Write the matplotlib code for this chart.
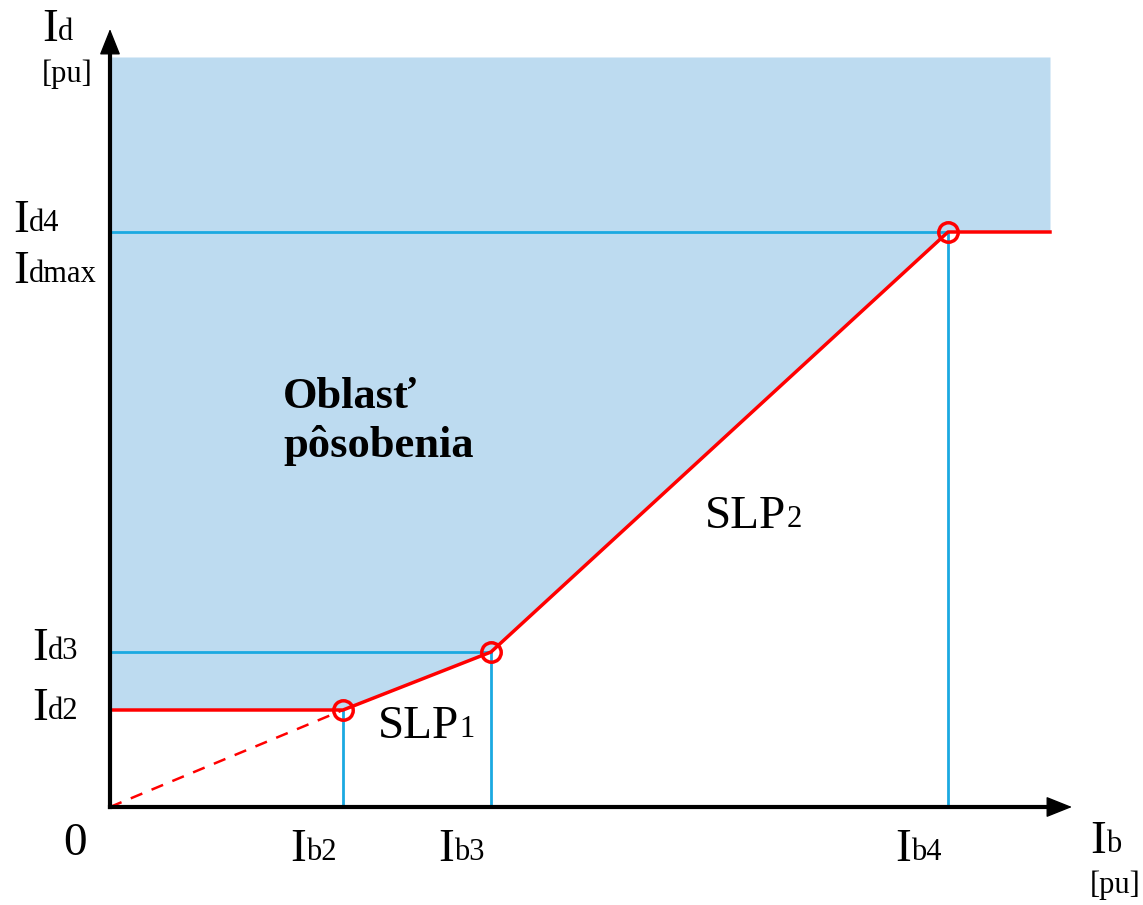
import matplotlib
matplotlib.use("Agg")
import matplotlib.pyplot as plt

# ---- data (per-unit values) ----
Ib_pts = [2.33, 3.81, 8.38]        # Ib2, Ib3, Ib4
Id_pts = [0.97, 1.55, 5.75]        # Id2, Id3, Id4
Ib_end = 9.40                       # end of characteristic
Id_top = 7.50                       # top of operating region
Ib_labels = ["b2", "b3", "b4"]
Id_labels = ["d2", "d3", "d4"]
region_text = "Oblasť\npôsobenia"

RED = "#FF0000"
BLUE = "#1BA9E1"
FILL = "#BDDBF0"
FONT = "Liberation Serif"

fig = plt.figure(figsize=(11.43, 9.05), dpi=100)
ax = fig.add_axes([0, 0, 1, 1])
ax.set_xlim(-1.10, 10.33)
ax.set_ylim(-0.98, 8.07)
ax.axis("off")

# characteristic curve
cx = [0, Ib_pts[0], Ib_pts[1], Ib_pts[2], Ib_end]
cy = [Id_pts[0], Id_pts[0], Id_pts[1], Id_pts[2], Id_pts[2]]
ax.fill_between(cx, cy, Id_top, color=FILL, lw=0, zorder=1)

# blue guide lines
for xi, yi in zip(Ib_pts, Id_pts):
    ax.plot([xi, xi], [0, yi], color=BLUE, lw=2, zorder=2)
for xi, yi in zip(Ib_pts[1:], Id_pts[1:]):
    ax.plot([0, xi], [yi, yi], color=BLUE, lw=2, zorder=2)

ax.plot(cx, cy, color=RED, lw=2.5, zorder=3)
ax.plot([0, Ib_pts[0]], [0, Id_pts[0]], color=RED, lw=1.8, ls=(0, (5, 4)), zorder=3)
ax.plot(Ib_pts, Id_pts, ls="none", marker="o", ms=14, mfc="none", mec=RED, mew=2.5, zorder=4)

# axes with arrows
astyle = "-|>,head_length=0.75,head_width=0.3"
ax.plot([0, 9.5], [0, 0], color="black", lw=3, solid_capstyle="projecting", zorder=5)
ax.plot([0, 0], [0, 7.6], color="black", lw=3, solid_capstyle="projecting", zorder=5)
ax.annotate("", xy=(9.62, 0), xytext=(9.3, 0),
            arrowprops=dict(arrowstyle=astyle, lw=1, color="black",
                            shrinkA=0, shrinkB=0, mutation_scale=22), zorder=5)
ax.annotate("", xy=(0, 7.78), xytext=(0, 7.4),
            arrowprops=dict(arrowstyle=astyle, lw=1, color="black",
                            shrinkA=0, shrinkB=0, mutation_scale=22), zorder=5)

MAIN = 34
SUB = 22


def label(x, y, sub, main="I", size=MAIN, subsize=SUB):
    t = ax.text(x, y, main, fontsize=size, family=FONT, ha="left", va="baseline", zorder=6)
    off = 0.216 * (size - subsize)
    ax.annotate(sub, xy=(1, 0), xycoords=t, xytext=(0, off), textcoords="offset points",
                fontsize=subsize, family=FONT, ha="left", va="bottom", zorder=6)
    return t


# y-axis labels
label(-0.68, 7.66, "d")
ax.text(-0.68, 7.25, "[pu]", fontsize=22, family=FONT, ha="left", va="baseline")
label(-0.97, Id_pts[2], Id_labels[2])
label(-0.97, Id_pts[2] - 0.51, "dmax")
label(-0.78, Id_pts[1] - 0.08, Id_labels[1])
label(-0.78, Id_pts[0] - 0.10, Id_labels[0])

# x-axis labels
ax.text(-0.35, -0.48, "0", fontsize=MAIN, family=FONT, ha="center", va="baseline")
for xi, s in zip(Ib_pts, Ib_labels):
    label(xi - 0.53, -0.54, s)
label(9.80, -0.46, "b")
ax.text(9.80, -0.86, "[pu]", fontsize=22, family=FONT, ha="left", va="baseline")

# slope labels
label(2.68, 0.69, "1", main="SLP")
label(5.95, 2.79, "2", main="SLP")

ax.text(1.73, 3.50, region_text, fontsize=32, family=FONT, fontweight="bold",
        ha="left", va="baseline", linespacing=1.25, zorder=6)

fig.savefig("out.png", dpi=100)
